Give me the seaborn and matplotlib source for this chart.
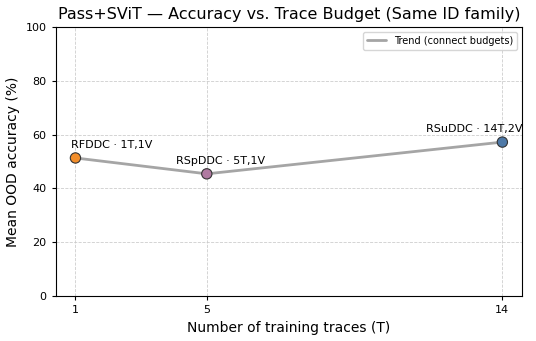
import pandas as pd
import matplotlib
matplotlib.use("Agg")
import matplotlib.pyplot as plt
import seaborn as sns

traces = [1, 5, 14]
accuracy = [51.3, 45.4, 57.2]
labels = ["RFDDC · 1T,1V", "RSpDDC · 5T,1V", "RSuDDC · 14T,2V"]
colors = ["#f28e2b", "#b07aa1", "#4e79a7"]
label_offsets = [(-3, 6), (-22, 6), (-55, 6)]

df = pd.DataFrame({"traces": traces, "accuracy": accuracy, "label": labels})

sns.set_style("whitegrid", {"grid.linestyle": "--", "grid.color": "#c8c8c8",
                            "axes.edgecolor": "black", "text.color": "black",
                            "axes.labelcolor": "black", "xtick.color": "black",
                            "ytick.color": "black"})
plt.rcParams["font.family"] = ["DejaVu Sans"]

fig, ax = plt.subplots(figsize=(5.36, 3.41), dpi=100)
fig.subplots_adjust(left=0.104, right=0.974, top=0.921, bottom=0.132)

sns.lineplot(data=df, x="traces", y="accuracy", color="#7f7f7f", alpha=0.7,
             linewidth=2, label="Trend (connect budgets)", ax=ax, zorder=2)
sns.scatterplot(data=df, x="traces", y="accuracy", hue="label", palette=colors,
                s=55, edgecolor="#333333", linewidth=0.8, legend=False, ax=ax, zorder=3)

for x, y, t, off in zip(traces, accuracy, labels, label_offsets):
    ax.annotate(t, (x, y), xytext=off, textcoords="offset points",
                fontsize=8, ha="left", va="bottom", color="black")

ax.set_xticks(traces)
ax.set_xlim(0.4, 14.6)
ax.set_ylim(0, 100)
ax.tick_params(labelsize=8, length=3, color="black", left=True, bottom=True)
for s in ax.spines.values():
    s.set_linewidth(0.8)
ax.grid(True, linestyle="--", linewidth=0.6, alpha=0.9)
ax.set_xlabel("Number of training traces (T)", fontsize=10)
ax.set_ylabel("Mean OOD accuracy (%)", fontsize=10)
ax.set_title("Pass+SViT — Accuracy vs. Trace Budget (Same ID family)", fontsize=11.5)
ax.legend(loc="upper right", fontsize=7)

fig.savefig("out.png", dpi=100)
